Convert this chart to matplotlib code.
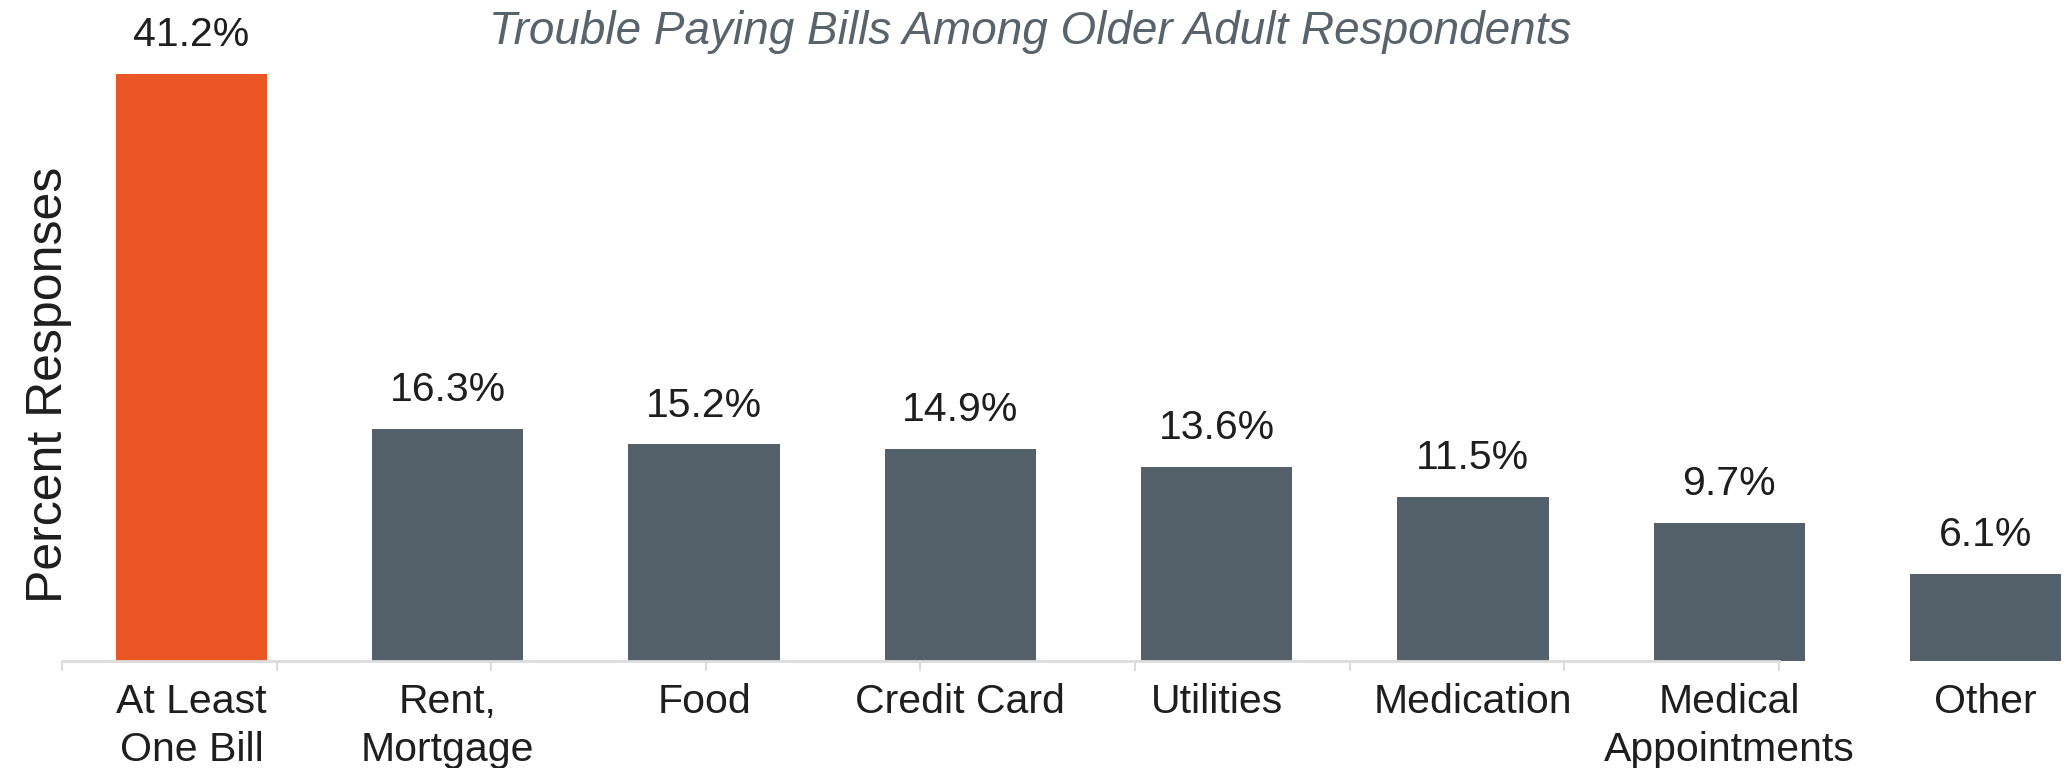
import numpy as np
import matplotlib
matplotlib.use("Agg")
import matplotlib.pyplot as plt

plt.rcParams['font.family'] = ['Liberation Sans', 'DejaVu Sans']

categories = ["At Least\nOne Bill", "Rent,\nMortgage", "Food", "Credit Card",
              "Utilities", "Medication", "Medical\nAppointments", "Other"]
values = [41.2, 16.3, 15.2, 14.9, 13.6, 11.5, 9.7, 6.1]
labels = ["41.2%", "16.3%", "15.2%", "14.9%", "13.6%", "11.5%", "9.7%", "6.1%"]

orange = '#EA5526'
slate = '#54616A'
colors = [orange] + [slate] * (len(values) - 1)

fig = plt.figure(figsize=(20.67, 7.68), dpi=100)
# axes fill the width, baseline sits at 661px from top
ax = fig.add_axes([0, 107 / 768, 1, 661 / 768])

x = np.arange(len(values))
ax.bar(x, values, width=0.59, color=colors, zorder=1)

for xi, v, t in zip(x, values, labels):
    ax.annotate(t, (xi, v), xytext=(0, 20), textcoords='offset points',
                ha='center', va='baseline', fontsize=29.5, color='#1e1e1e')

ax.set_xlim(-0.747, 7.318)
ax.set_ylim(0, 46.4)

# x axis: labels under bars, light baseline with its own band ticks
ax.set_xticks(x)
ax.set_xticklabels(categories, fontsize=29.5, color='#1e1e1e', linespacing=1.32)
ax.tick_params(axis='x', which='major', length=0, pad=16)
bounds = np.linspace(-0.505, 6.194, 9)
ax.set_xticks(bounds, minor=True)
ax.tick_params(axis='x', which='minor', length=7.5, width=1.5, color='#dcdcdc', direction='out')
ax.spines['bottom'].set_bounds(bounds[0], bounds[-1])
ax.spines['bottom'].set_color('#dcdcdc')
ax.spines['bottom'].set_linewidth(2)
ax.spines['bottom'].set_zorder(2)
for s in ['top', 'right', 'left']:
    ax.spines[s].set_visible(False)
ax.set_yticks([])
ax.patch.set_alpha(0)

fig.text(49 / 2067, 1 - 385 / 768, "Percent Responses", rotation=90,
         ha='center', va='center', fontsize=36, color='#1e1e1e')
fig.text(1030 / 2067, 1 - 44 / 768, "Trouble Paying Bills Among Older Adult Respondents",
         ha='center', va='baseline', fontsize=33, style='italic', color='#58636B')

fig.savefig('out.png', dpi=100)
